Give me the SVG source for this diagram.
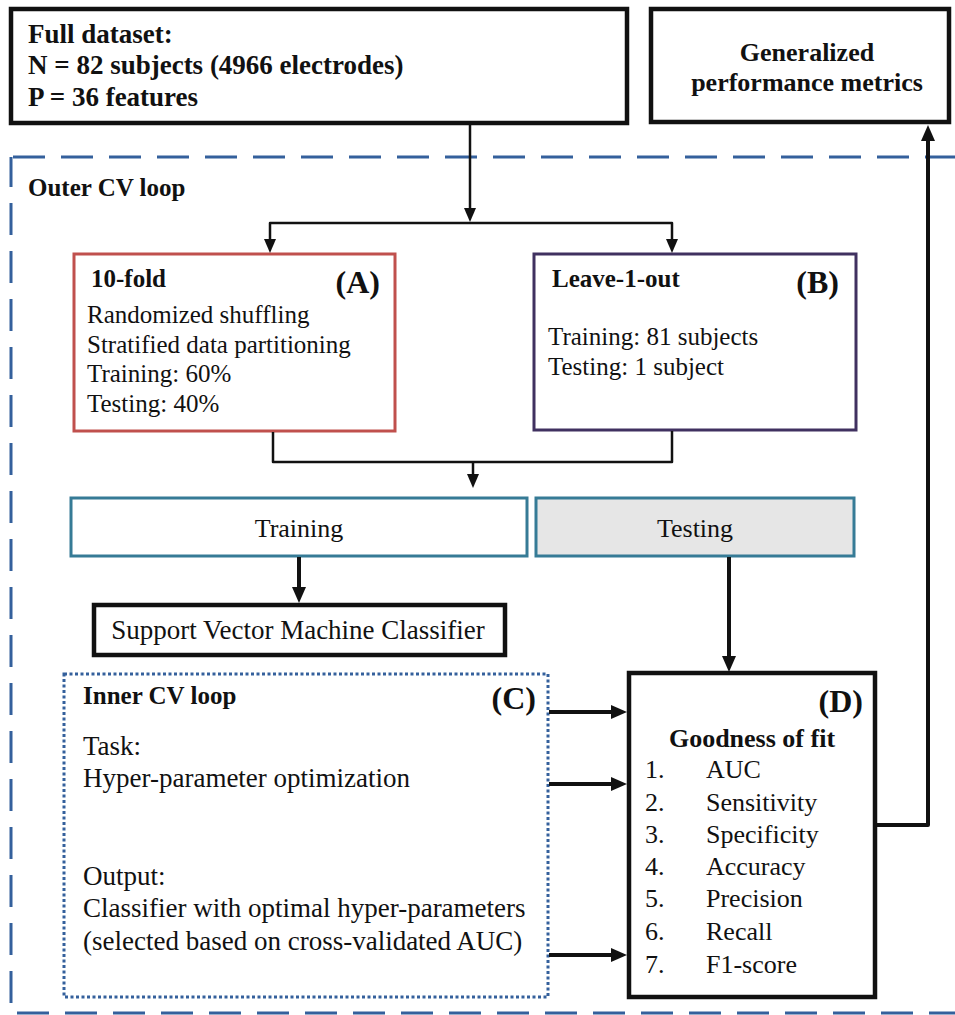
<svg xmlns="http://www.w3.org/2000/svg" width="955" height="1015" viewBox="0 0 955 1015" font-family="'Liberation Serif', Tinos, 'Times New Roman', Times, serif">
<defs>
<style>
text{font-family:"Liberation Serif",Tinos,"Times New Roman",Times,serif;fill:#111}
.b{font-weight:bold}
.big{font-size:32px;font-weight:bold}
.t25{font-size:25px}
.t26{font-size:26px}
.t27{font-size:27px}
.box{fill:#fff;stroke:#111;stroke-width:4.5}
.thin{fill:none;stroke:#111;stroke-width:2.5;stroke-linejoin:round}
.thick{fill:none;stroke:#111;stroke-width:4;stroke-linejoin:round}
</style>
<marker id="ah" markerUnits="userSpaceOnUse" markerWidth="14" markerHeight="14" viewBox="0 0 14 14" refX="6" refY="7" orient="auto"><path d="M0,1 L14,7 L0,13 z" fill="#111"/></marker>
<marker id="ahk" markerUnits="userSpaceOnUse" markerWidth="16" markerHeight="16" viewBox="0 0 16 16" refX="6" refY="8" orient="auto"><path d="M0,1 L16,8 L0,15 z" fill="#111"/></marker>
</defs>
<rect width="955" height="1015" fill="#fff"/>
<g id="outer-loop">
<rect x="11" y="157" width="960" height="856" fill="none" stroke="#34609c" stroke-width="3" stroke-dasharray="32 16" stroke-dashoffset="-2"/>
<text x="28" y="196" class="b t25">Outer CV loop</text>
</g>
<g id="full-dataset">
<rect x="11" y="9" width="616" height="114" class="box"/>
<text x="28" y="43" class="b t27">Full dataset:</text>
<text x="28" y="74" class="b t27">N = 82 subjects (4966 electrodes)</text>
<text x="28" y="106" class="b t27">P = 36 features</text>
</g>
<g id="generalized">
<rect x="651" y="9" width="298" height="113" class="box"/>
<text x="807" y="61" class="b t26" text-anchor="middle">Generalized</text>
<text x="807" y="91" class="b t26" text-anchor="middle">performance metrics</text>
</g>
<g id="box-a">
<rect x="74" y="254" width="321" height="177" fill="#fff" stroke="#c0504d" stroke-width="3"/>
<text x="91" y="287" class="b t25">10-fold</text>
<text x="380" y="293" class="big" text-anchor="end">(A)</text>
<text x="87" y="323" class="t25">Randomized shuffling</text>
<text x="87" y="353" class="t25">Stratified data partitioning</text>
<text x="87" y="382" class="t25">Training: 60%</text>
<text x="87" y="412" class="t25">Testing: 40%</text>
</g>
<g id="box-b">
<rect x="534" y="254" width="322" height="176" fill="#fff" stroke="#403160" stroke-width="3"/>
<text x="552" y="287" class="b t25">Leave-1-out</text>
<text x="839" y="293" class="big" text-anchor="end">(B)</text>
<text x="548" y="345" class="t25">Training: 81 subjects</text>
<text x="548" y="375" class="t25">Testing: 1 subject</text>
</g>
<g id="training">
<rect x="71" y="498" width="456" height="58" fill="#fff" stroke="#367b96" stroke-width="3"/>
<text x="299" y="537" class="t26" text-anchor="middle">Training</text>
</g>
<g id="testing">
<rect x="536" y="498" width="318" height="58" fill="#e6e6e6" stroke="#367b96" stroke-width="3"/>
<text x="695" y="537" class="t26" text-anchor="middle">Testing</text>
</g>
<g id="svm">
<rect x="94" y="605" width="411" height="50" class="box"/>
<text x="298" y="639" class="t27" text-anchor="middle">Support Vector Machine Classifier</text>
</g>
<g id="box-c">
<rect x="64" y="674" width="484" height="323" fill="#fff" stroke="#34609c" stroke-width="3" stroke-dasharray="3 2.5"/>
<text x="83" y="704" class="b t25">Inner CV loop</text>
<text x="536" y="709" class="big" text-anchor="end">(C)</text>
<text x="83" y="755" class="t27">Task:</text>
<text x="83" y="787" class="t27">Hyper-parameter optimization</text>
<text x="83" y="885" class="t27">Output:</text>
<text x="83" y="917" class="t27">Classifier with optimal hyper-parameters</text>
<text x="83" y="950" class="t27">(selected based on cross-validated AUC)</text>
</g>
<g id="box-d">
<rect x="629" y="673" width="246" height="324" class="box" stroke-width="4"/>
<text x="863" y="712" class="big" text-anchor="end">(D)</text>
<text x="752" y="747" class="b t26" text-anchor="middle">Goodness of fit</text>
<g class="t26">
<text x="645" y="778">1.</text><text x="706" y="778">AUC</text>
<text x="645" y="811">2.</text><text x="706" y="811">Sensitivity</text>
<text x="645" y="843">3.</text><text x="706" y="843">Specificity</text>
<text x="645" y="875">4.</text><text x="706" y="875">Accuracy</text>
<text x="645" y="907">5.</text><text x="706" y="907">Precision</text>
<text x="645" y="940">6.</text><text x="706" y="940">Recall</text>
<text x="645" y="973">7.</text><text x="706" y="973">F1-score</text>
</g>
</g>
<g id="connectors">
<path d="M470 125 V214" class="thin" marker-end="url(#ah)"/>
<path d="M470 223 H270 V245" class="thin" marker-end="url(#ah)"/>
<path d="M470 223 H672 V245" class="thin" marker-end="url(#ah)"/>
<path d="M273 432 V462 H672 V431" class="thin"/>
<path d="M473 462 V480" class="thin" marker-end="url(#ah)"/>
<path d="M299 557 V593" class="thick" marker-end="url(#ahk)"/>
<path d="M729 557 V662" class="thick" marker-end="url(#ahk)"/>
<path d="M549 712 H617" class="thick" marker-end="url(#ahk)"/>
<path d="M549 784 H617" class="thick" marker-end="url(#ahk)"/>
<path d="M549 955 H617" class="thick" marker-end="url(#ahk)"/>
<path d="M877 825 H928 V135" class="thick" marker-end="url(#ahk)"/>
</g>
</svg>
